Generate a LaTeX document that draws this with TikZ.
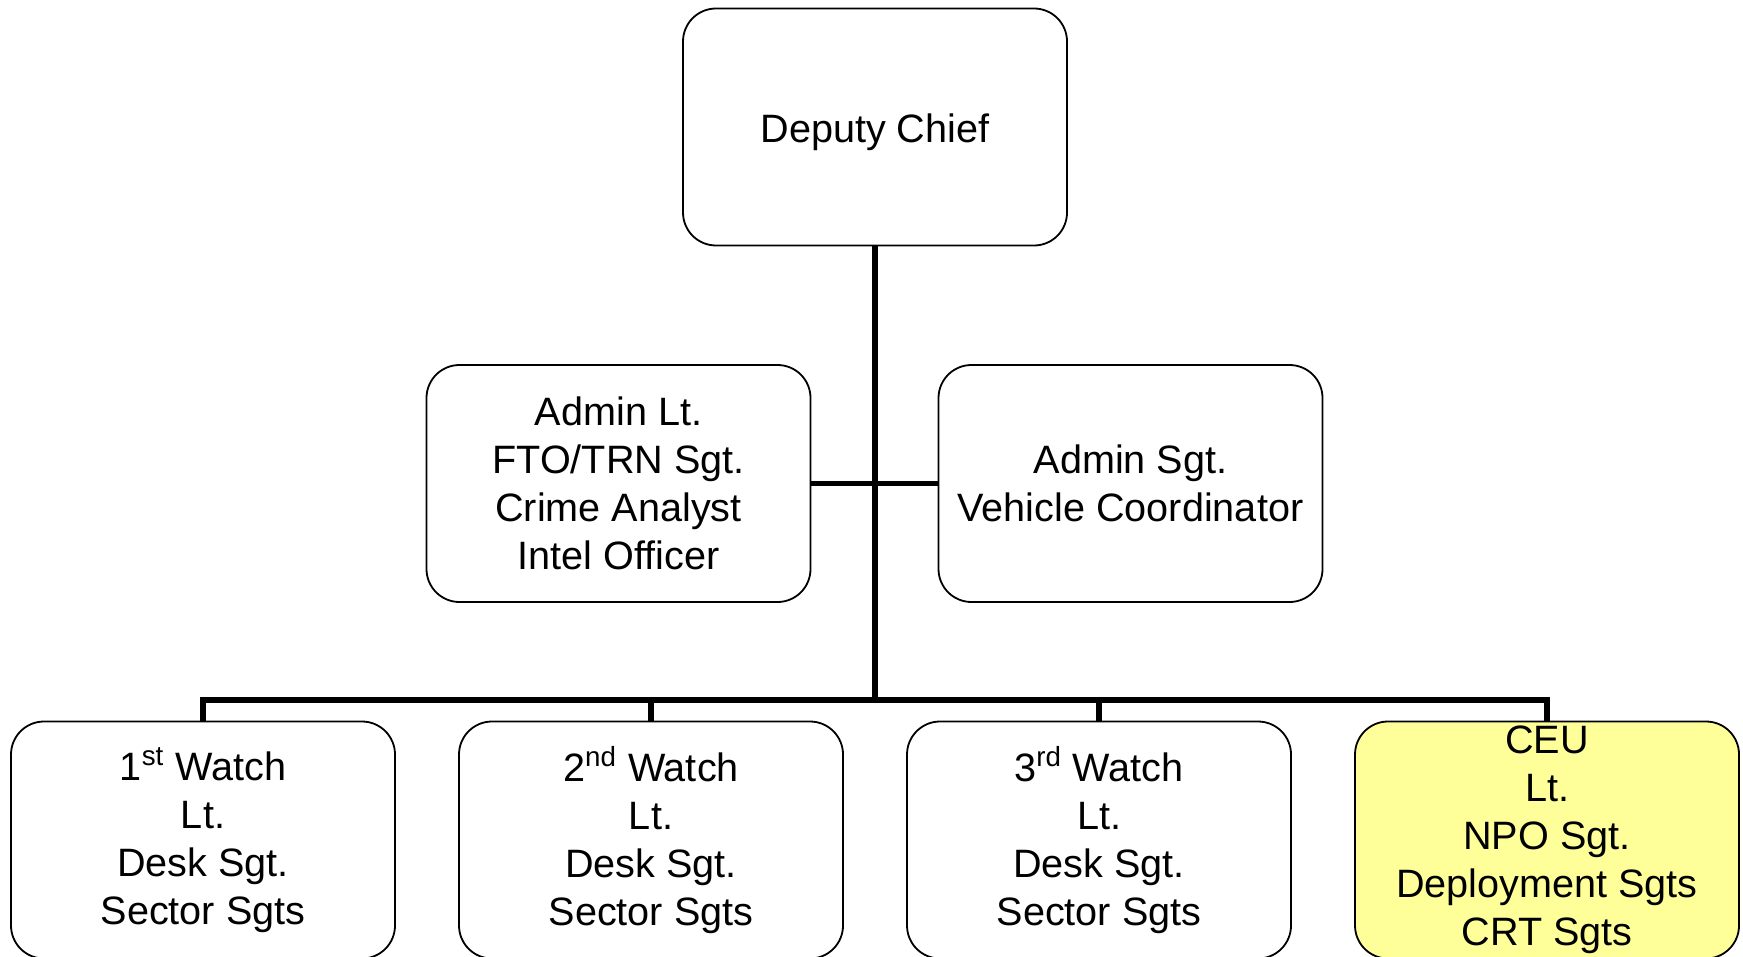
\documentclass[tikz,border=0pt]{standalone}
\usepackage{fontspec}
\setmainfont{Liberation Sans}
\usepackage{tikz}
\usepackage{xcolor}

\begin{document}
\begin{tikzpicture}[x=0.5pt,y=-0.5pt,
  unitbox/.style={draw,rounded corners=16.5pt,line width=0.9pt,fill=white,
    minimum width=192pt,minimum height=118.5pt,inner sep=0pt,align=center,
    font=\fontsize{19.8}{24}\selectfont},
  link/.style={line width=2.9pt}]
\definecolor{ceuyellow}{HTML}{FFFF99}
\useasboundingbox (0,0) rectangle (1743,957);
\node [unitbox,text height=20pt] (chief) at (875,127) {Deputy Chief};
\node [unitbox] (adminlt) at (618.5,483.5) {Admin Lt.\\FTO/TRN Sgt.\\Crime Analyst\\Intel Officer};
\node [unitbox] (adminsgt) at (1130.5,483.5) {Admin Sgt.\\Vehicle Coordinator};
\coordinate (bus) at (875,700);
  \foreach \nm/\ord/\pos in {watch1/1\textsuperscript{st}/203,watch2/2\textsuperscript{nd}/651,watch3/3\textsuperscript{rd}/1099}
  {  \node [unitbox] (\nm) at (\pos,840) {\ord{} Watch\\Lt.\\Desk Sgt.\\Sector Sgts};}
\node [unitbox,fill=ceuyellow] (ceu) at (1547,840) {CEU\\Lt.\\NPO Sgt.\\Deployment Sgts\\CRT Sgts};
\draw [link] (chief) -- (bus);
\draw [link] (adminlt) -- (adminsgt);
  \foreach \nm in {watch1,watch2,watch3,ceu}
  {  \draw [link] (bus) -| (\nm);}
\end{tikzpicture}
\end{document}
